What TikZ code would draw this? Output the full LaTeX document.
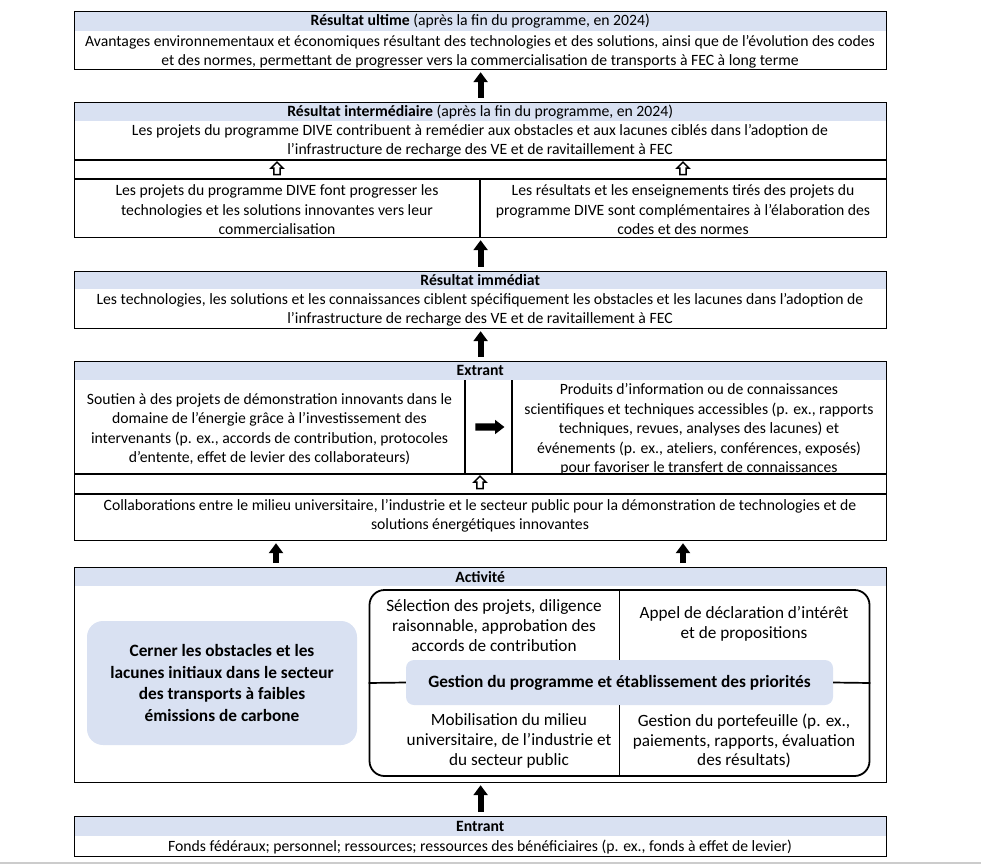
\documentclass[tikz,border=0pt]{standalone}
\usepackage{fontspec}
\setmainfont{Carlito}
\usetikzlibrary{arrows.meta,shapes.arrows,positioning}
\definecolor{hdrblue}{HTML}{D9E1F2}
\tikzset{
	box/.style={draw, line width=1.2pt, minimum width=812pt, anchor=north west, inner sep=0pt},
	hdr/.style={fill=hdrblue, minimum width=812pt, anchor=north west, inner sep=0pt, font=\fontsize{15.7}{19.5}\selectfont},
	txt/.style={align=center, inner sep=0pt, yshift=-1.3pt, font=\fontsize{15.7}{19.5}\selectfont},
	quad/.style={align=center, inner sep=0pt, yshift=-1pt, font=\fontsize{17.2}{19.7}\selectfont},
	bigarrow/.style={line width=6pt, -{Triangle[width=14pt,length=10pt]}, shorten <=4pt, shorten >=2pt},
	hollow/.style={single arrow, draw, fill=white, line width=1.5pt, shape border rotate=90, inner sep=2.4pt,
		minimum height=12.5pt, single arrow head extend=2.8pt},
	solidarrow/.style={single arrow, fill=black, inner sep=3.5pt, minimum height=29pt, single arrow head extend=3.5pt, single arrow tip angle=75},
	bluebox/.style={fill=hdrblue, align=center, inner sep=0pt, font=\bfseries\fontsize{17.3}{21.5}\selectfont}
}
\begin{document}
\begin{tikzpicture}[x=1pt, y=-1pt]
	\useasboundingbox (0,0) rectangle (981,866);
	
	% header bands
	\node[hdr, minimum height=20pt] (h1) at (74,11) {\textbf{Résultat ultime} (après la fin du programme, en 2024)};
	\node[hdr, minimum height=19pt] (h2) at (74,102) {\textbf{Résultat intermédiaire} (après la fin du programme, en 2024)};
	\node[hdr, minimum height=18pt] (h3) at (74,271) {\textbf{Résultat immédiat}};
	\node[hdr, minimum height=19pt] (h4) at (74,361) {\textbf{Extrant}};
	\node[hdr, minimum height=19pt] (h5) at (74,567) {\textbf{Activité}};
	\node[hdr, minimum height=20pt] (h6) at (74,816) {\textbf{Entrant}};
	
	% boxes
	\node[box, minimum height=58pt] (ultime) at (74,11) {};
	\node[box, minimum height=135pt] (intermed) at (74,102) {};
	\node[box, minimum height=57pt] (immediat) at (74,271) {};
	\node[box, minimum height=179pt] (extrant) at (74,361) {};
	\node[box, minimum height=215pt] (activite) at (74,567) {};
	\node[box, minimum height=40pt] (entrant) at (74,816) {};
	
	% table rules
	\draw[line width=1.2pt] (74,160) -- (886,160);
	\draw[line width=1.2pt] (74,179) -- (886,179);
	\draw[line width=1.2pt] (480,179) -- (480,237);
	\draw[line width=1.2pt] (74,474) -- (886,474);
	\draw[line width=1.2pt] (74,494) -- (886,494);
	\draw[line width=1.2pt] (465,380) -- (465,474);
	\draw[line width=1.2pt] (512,380) -- (512,474);
	
	% texts
	\node[txt] (ultimetxt) at (480,50.5) {Avantages environnementaux et économiques résultant des technologies et des solutions, ainsi que de l’évolution des codes\\
		et des normes, permettant de progresser vers la commercialisation de transports à FEC à long terme};
	\node[txt] (intermedtxt) at (480,139.5) {Les projets du programme DIVE contribuent à remédier aux obstacles et aux lacunes ciblés dans l’adoption de\\
		l’infrastructure de recharge des VE et de ravitaillement à FEC};
	\node[txt] (progres) at (277,208.5) {Les projets du programme DIVE font progresser les\\technologies et les solutions innovantes vers leur\\commercialisation};
	\node[txt] (codes) at (683,208.5) {Les résultats et les enseignements tirés des projets du\\programme DIVE sont complémentaires à l’élaboration des\\codes et des normes};
	\node[txt] (immediattxt) at (480,308.5) {Les technologies, les solutions et les connaissances ciblent spécifiquement les obstacles et les lacunes dans l’adoption de\\
		l’infrastructure de recharge des VE et de ravitaillement à FEC};
	\node[txt] (soutien) at (269.5,428) {Soutien à des projets de démonstration innovants dans le\\domaine de l’énergie grâce à l’investissement des\\intervenants (p. ex., accords de contribution, protocoles\\d’entente, effet de levier des collaborateurs)};
	\node[txt] (produits) at (699,428) {Produits d’information ou de connaissances\\scientifiques et techniques accessibles (p. ex., rapports\\techniques, revues, analyses des lacunes) et\\événements (p. ex., ateliers, conférences, exposés)\\pour favoriser le transfert de connaissances};
	\node[txt] (collab) at (480,514.5) {Collaborations entre le milieu universitaire, l’industrie et le secteur public pour la démonstration de technologies et de\\solutions énergétiques innovantes};
	\node[txt] (entranttxt) at (480,846) {Fonds fédéraux; personnel; ressources; ressources des bénéficiaires (p. ex., fonds à effet de levier)};
	
	% small arrows in the tables
	\node[hollow] (up1) at (277,170) {};
	\node[hollow] (up2) at (683,170) {};
	\node[hollow] (up3) at (480,484) {};
	\node[solidarrow] (droite) at (487.5,427) {};
	
	% activity
	\node[bluebox, rounded corners=16pt, minimum width=270pt, minimum height=124pt] (cerner) at (222,683) {Cerner les obstacles et les\\lacunes initiaux dans le secteur\\des transports à faibles\\émissions de carbone};
	\node[draw, line width=1.8pt, rounded corners=15pt, minimum width=500pt, minimum height=186pt] (cadre) at (619.5,683) {};
	\node[fill=hdrblue, rounded corners=8pt, inner sep=0pt, minimum width=427pt, minimum height=45pt, font=\bfseries\fontsize{17.3}{19.5}\selectfont] (gestion) at (619.5,682.5) {Gestion du programme et établissement des priorités};
	\draw[line width=1.7pt] (cadre.north) -- (gestion.north);
	\draw[line width=1.7pt] (gestion.south) -- (cadre.south);
	\draw[line width=1.7pt] (cadre.west) -- (gestion.west);
	\draw[line width=1.7pt] (gestion.east) -- (cadre.east);
	\node[quad] (selection) at (494,624.5) {Sélection des projets, diligence\\raisonnable, approbation des\\accords de contribution};
	\node[quad] (appel) at (744,622.5) {Appel de déclaration d’intérêt\\et de propositions};
	\node[quad] (mobil) at (509,740) {Mobilisation du milieu\\universitaire, de l’industrie et\\du secteur public};
	\node[quad] (portef) at (744,740) {Gestion du portefeuille (p. ex.,\\paiements, rapports, évaluation\\des résultats)};
	
	% big arrows
	\coordinate (colL) at (276,0);
	\coordinate (colR) at (683,0);
	\draw[bigarrow] (entrant.north) -- (activite.south);
	\draw[bigarrow] (activite.north -| colL) -- (extrant.south -| colL);
	\draw[bigarrow] (activite.north -| colR) -- (extrant.south -| colR);
	\draw[bigarrow] (extrant.north) -- (immediat.south);
	\draw[bigarrow] (immediat.north) -- (intermed.south);
	\draw[bigarrow] (intermed.north) -- (ultime.south);
	
	% bottom edge of the page
	\draw[black!20, line width=1.5pt] (0,863) -- (981,863);
\end{tikzpicture}
\end{document}
